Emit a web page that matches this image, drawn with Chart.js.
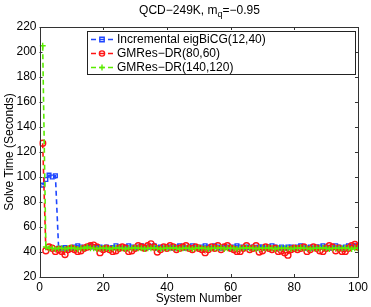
<!DOCTYPE html>
<html><head><meta charset="utf-8">
<script src="https://cdn.jsdelivr.net/npm/chart.js@4/dist/chart.umd.min.js"></script>
<style>
html,body{margin:0;padding:0;background:#fff;}
#wrap{position:relative;width:371px;height:307px;}
#title{position:absolute;left:0;top:3px;width:399px;text-align:center;font:12px "Liberation Sans",Arial,sans-serif;color:#000;line-height:14px;}
#title sub{font-size:9px;vertical-align:-3px;line-height:0;}
canvas{position:absolute;left:0;top:0;}
</style></head>
<body>
<div id="wrap">
<canvas id="c" width="371" height="307"></canvas>
<div id="title">QCD−249K, m<sub>q</sub>=−0.95</div>
</div>
<script>
const systemNumbers = Array.from({length:100},(_,i)=>i+1);
const seriesNames = ["Incremental eigBiCG(12,40)","GMRes−DR(80,60)","GMRes−DR(140,120)"];
const eigBiCG = [93.5,98,101.5,100,101,43,43,43.5,42.5,43,44,45,44,43,44,45,44,43.5,44,43,
44,43,43.5,45,44,43,44,45,44,43,44,45,43,44,44,45,43,44,43,44,
44,43,44,45,44,43,44,45,44,43,44,45,44,43,45,44,43,44,44,43,
44,45,44,43,44,43.5,44,43,44,44,43,44,45,44,43,44,43,44,44,43,
44,45,44,43,44,43,44,44,45,44,43,44,45,44,43,44,45,44,45,45];
const gmres80 = [127,41,44,43,40.5,42,40.5,38,42,43,42,40.5,41,43,44,45,45.5,44,39.5,42,
43,42,40.5,41,43,44,43,40.5,41,43,45,44,43,45,46.5,44,40,42,44,43,
45,44,42,43,44,45,43,42,44,43,42,39.5,42,44,43,45,42,44,45,43,
42,40.5,40.5,43,45,42,43,45,40,41,44,43,42,43,40.5,41,39.5,37.5,42,43,
42,43,44,40.5,42,44,43,41,40.5,43,45,44,41,43,40.5,40.5,43,45,46,44];
const gmres140 = [205,44,43,43,42.5,43,43,42.5,43,43.5,43,42.5,43,43,44,43,43,42.5,43,43,
43,42.5,43,43.5,43,43,42.5,43,43,43.5,43,43,42.5,43,43,43.5,43,42.5,43,43,
43,43.5,43,42.5,43,43,43,42.5,43,43.5,43,43,42.5,43,43,43,43.5,42.5,43,43,
43,42.5,43,43,43.5,43,43,42.5,43,43,43,43.5,43,42.5,43,43,43,43,42.5,43,
43,43.5,43,43,42.5,43,43,43,43.5,43,42.5,43,43,43,43,43.5,43,42.5,43,43];
const xTicks = [0,20,40,60,80,100];
const yTicks = [20,40,60,80,100,120,140,160,180,200,220];

const colors = ['rgb(30,70,255)','rgb(255,20,20)','rgb(90,235,0)'];
const styles = ['rect','circle','cross'];
const radii = [2.6,3,3];
const series = [eigBiCG,gmres80,gmres140];
const FONT = '"Liberation Sans", Arial, sans-serif';

const datasets = series.map((vals,k)=>({
  label: seriesNames[k],
  data: vals.map((v,i)=>({x:systemNumbers[i],y:v})),
  borderColor: colors[k],
  backgroundColor: k===0 ? 'rgba(0,0,0,0)' : 'rgba(0,0,0,0)',
  borderWidth: 1.6,
  borderDash: [5,3.5],
  pointStyle: styles[k],
  pointRadius: radii[k],
  pointBorderWidth: 1.4,
  pointBorderColor: colors[k],
  pointBackgroundColor: 'rgba(0,0,0,0)',
  tension: 0,
  order: 2-k
}));

const framePlugin = {
  id:'frame',
  afterDatasetsDraw(chart){
    const ctx = chart.ctx, a = chart.chartArea;
    const xs = chart.scales.x, ys = chart.scales.y;
    ctx.save();
    ctx.strokeStyle = '#333';
    ctx.lineWidth = 1;
    ctx.beginPath();
    ctx.rect(Math.round(a.left)+0.5, Math.round(a.top)+0.5, Math.round(a.right-a.left), Math.round(a.bottom-a.top));
    ctx.stroke();
    ctx.beginPath();
    xTicks.forEach(t=>{
      const px = Math.round(xs.getPixelForValue(t))+0.5;
      ctx.moveTo(px,a.bottom); ctx.lineTo(px,a.bottom-3);
      ctx.moveTo(px,a.top); ctx.lineTo(px,a.top+3);
    });
    yTicks.forEach(t=>{
      const py = Math.round(ys.getPixelForValue(t))+0.5;
      ctx.moveTo(a.left,py); ctx.lineTo(a.left+3,py);
      ctx.moveTo(a.right,py); ctx.lineTo(a.right-3,py);
    });
    ctx.stroke();
    // legend box
    const L=87.5, T=31.5, R=355.5, B=74.5;
    ctx.fillStyle='#fff';
    ctx.fillRect(L,T,R-L,B-T);
    ctx.strokeStyle='#222';
    ctx.strokeRect(L,T,R-L,B-T);
    const rows=[39.5,53.5,67.5];
    ctx.font = '12px '+FONT;
    ctx.textBaseline='middle';
    ctx.textAlign='left';
    rows.forEach((ry,k)=>{
      ctx.strokeStyle=colors[k];
      ctx.lineWidth=1.6;
      ctx.setLineDash([5,3.5]);
      ctx.beginPath(); ctx.moveTo(91,ry); ctx.lineTo(113,ry); ctx.stroke();
      ctx.setLineDash([]);
      ctx.lineWidth=1.4;
      const cx=102;
      ctx.beginPath();
      if(styles[k]==='rect'){ ctx.rect(cx-2.2,ry-2.2,4.4,4.4); }
      else if(styles[k]==='circle'){ ctx.arc(cx,ry,2.6,0,Math.PI*2); }
      else { ctx.moveTo(cx-3,ry); ctx.lineTo(cx+3,ry); ctx.moveTo(cx,ry-3); ctx.lineTo(cx,ry+3); }
      ctx.stroke();
      ctx.fillStyle='#000';
      ctx.fillText(seriesNames[k],117,ry+0.5);
    });
    ctx.restore();
  }
};

new Chart(document.getElementById('c'),{
  type:'line',
  data:{datasets},
  options:{
    responsive:false,
    animation:false,
    devicePixelRatio:1,
    layout:{padding:{top:27,right:12,left:0,bottom:0}},
    plugins:{legend:{display:false},tooltip:{enabled:false},title:{display:false}},
    scales:{
      x:{type:'linear',min:0,max:100,
        afterFit(s){s.height=30;},
        afterBuildTicks(s){s.ticks=xTicks.map(v=>({value:v}));},
        grid:{display:false,drawTicks:false},
        border:{display:false},
        ticks:{font:{family:FONT,size:12},color:'#000',padding:3,maxRotation:0,autoSkip:false},
        title:{display:true,text:'System Number',font:{family:FONT,size:12},color:'#000',padding:{top:0,bottom:1}}
      },
      y:{type:'linear',min:20,max:220,
        afterFit(s){s.width=39.5;},
        afterBuildTicks(s){s.ticks=yTicks.map(v=>({value:v}));},
        grid:{display:false,drawTicks:false},
        border:{display:false},
        ticks:{font:{family:FONT,size:12},color:'#000',padding:3,autoSkip:false},
        title:{display:true,text:'Solve Time (Seconds)',font:{family:FONT,size:12},color:'#000',padding:{top:2,bottom:0}}
      }
    }
  },
  plugins:[framePlugin]
});
</script>
</body></html>
